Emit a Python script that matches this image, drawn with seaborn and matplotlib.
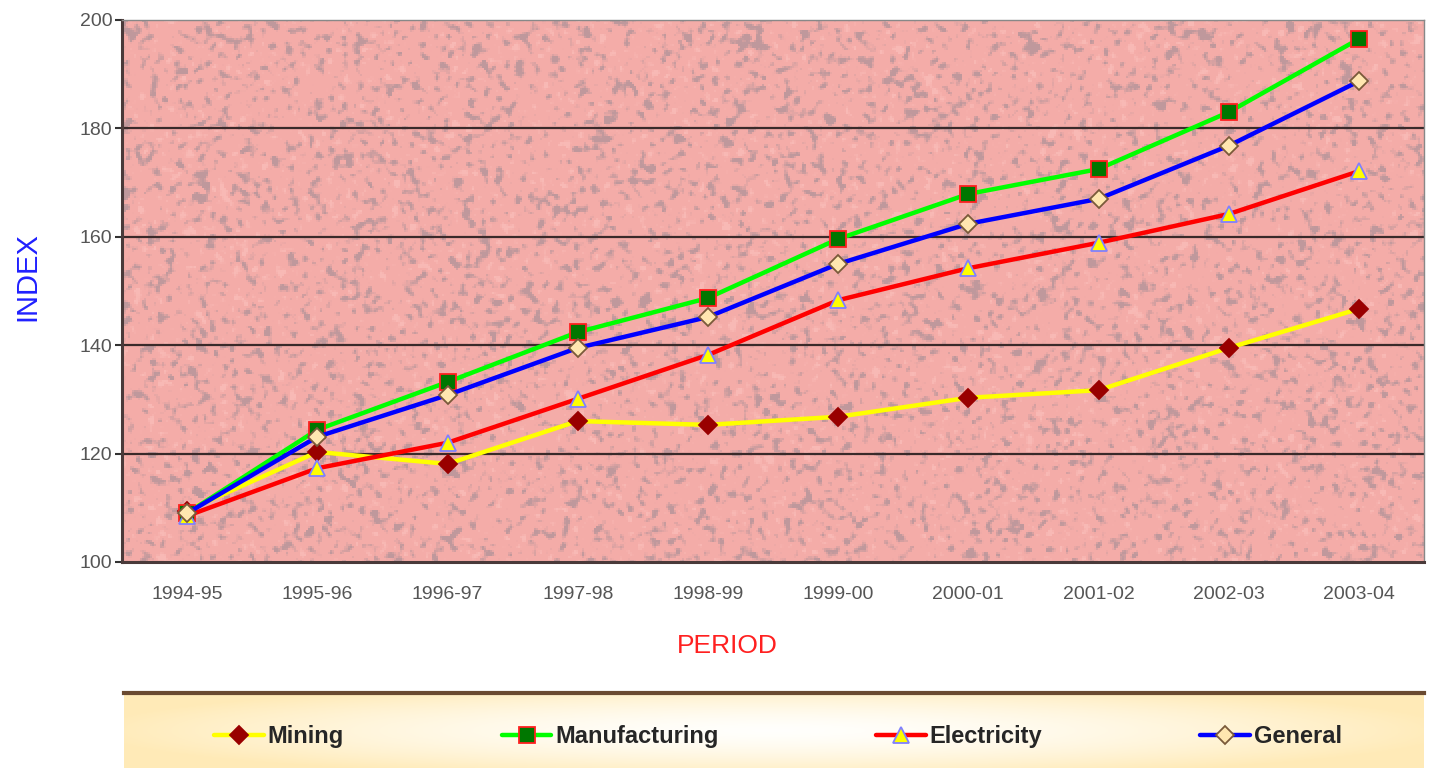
import numpy as np
import pandas as pd
import matplotlib
matplotlib.use("Agg")
import matplotlib.pyplot as plt
import seaborn as sns

periods = ["1994-95", "1995-96", "1996-97", "1997-98", "1998-99",
           "1999-00", "2000-01", "2001-02", "2002-03", "2003-04"]
mining = [109.5, 120.3, 118.1, 126.0, 125.3, 126.8, 130.3, 131.7, 139.5, 146.7]
manufacturing = [109.0, 124.4, 133.2, 142.4, 148.7, 159.6, 167.9, 172.5, 183.0, 196.5]
electricity = [108.5, 117.3, 122.0, 130.1, 138.2, 148.3, 154.2, 158.9, 164.2, 172.1]
general = [109.0, 123.1, 130.8, 139.5, 145.2, 155.0, 162.4, 167.0, 176.8, 188.7]
y_ticks = [100, 120, 140, 160, 180, 200]

series = {
    "Mining": mining,
    "Manufacturing": manufacturing,
    "Electricity": electricity,
    "General": general,
}
styles = {
    "Mining": dict(color="#FFFF00", marker="D", mfc="#990000", mec="#990000", ms=9),
    "Manufacturing": dict(color="#00FF00", marker="s", mfc="#007700", mec="#FF2020", ms=11),
    "Electricity": dict(color="#FF0000", marker="^", mfc="#FFFF00", mec="#8080FF", ms=11),
    "General": dict(color="#0000FF", marker="D", mfc="#FFE6B0", mec="#7A5A3A", ms=9),
}

df = pd.DataFrame([
    {"period": p, "x": i, "value": v, "series": name}
    for name, vals in series.items()
    for i, (p, v) in enumerate(zip(periods, vals))
])

sns.set_style("white")
plt.rcParams["font.family"] = ["Liberation Sans", "DejaVu Sans"]

fig = plt.figure(figsize=(14.32, 7.70), dpi=100)
ax = fig.add_axes([122 / 1432, 1 - 562 / 770, (1424 - 122) / 1432, (562 - 20) / 770])


def box_blur(a, k=1):
    out = np.zeros_like(a)
    n = 0
    for dy in range(-k, k + 1):
        for dx in range(-k, k + 1):
            out += np.roll(np.roll(a, dy, 0), dx, 1)
            n += 1
    return out / n


# fine speckled pink plot background
rng = np.random.default_rng(11)
tex = box_blur(rng.normal(0, 1, (271, 651)), 1)
tex = box_blur(tex, 1) * 0.6 + tex * 0.4
tex = (tex - tex.mean()) / tex.std()
base = np.array([0.960, 0.675, 0.660])
grey = np.array([0.70, 0.58, 0.60])
light = np.array([0.99, 0.78, 0.76])
w = np.clip((tex - 0.6) * 0.7, 0, 0.8)[..., None]
wl = np.clip((-tex - 1.4) * 0.6, 0, 0.5)[..., None]
img = base * (1 - w - wl) + grey * w + light * wl
ax.imshow(img, extent=[-0.5, 9.5, 100, 200], aspect="auto", zorder=0, interpolation="nearest")

for name in series:
    st = styles[name]
    sub = df[df["series"] == name]
    sns.lineplot(data=sub, x="x", y="value", ax=ax, color=st["color"], linewidth=3.2,
                 marker=st["marker"], markersize=st["ms"], markerfacecolor=st["mfc"],
                 markeredgecolor=st["mec"], markeredgewidth=1.3, label=name,
                 legend=False, zorder=3)

ax.set_xlim(-0.5, 9.5)
ax.set_ylim(100, 200)
ax.set_yticks(y_ticks)
ax.set_yticklabels([str(t) for t in y_ticks], color="#555555", fontsize=14)
ax.set_xticks(range(len(periods)))
ax.set_xticklabels(periods, color="#555555", fontsize=14)
ax.tick_params(axis="x", length=0, pad=17)
ax.set_xticks(np.arange(-0.5, 10, 1), minor=True)
ax.tick_params(axis="x", which="minor", length=6, color="#555555", width=1.5)
ax.tick_params(axis="y", length=5, color="#333333", width=1.5, left=True, pad=2)
for yv in y_ticks[1:-1]:
    ax.axhline(yv, color="#3a2a2a", linewidth=1.6, zorder=1)

for side in ["left", "bottom"]:
    ax.spines[side].set_color("#4a3a3a")
    ax.spines[side].set_linewidth(2.2)
for side in ["top", "right"]:
    ax.spines[side].set_color("#888888")
    ax.spines[side].set_linewidth(1.0)

ax.set_xlabel("PERIOD", color="#FF2020", fontsize=19)
ax.xaxis.set_label_coords((727 - 122) / 1302, -(646 - 562) / 542, transform=ax.transAxes)
ax.xaxis.label.set_va("center")
ax.set_ylabel("INDEX", color="#2020FF", fontsize=21)
ax.yaxis.set_label_coords(-(122 - 27) / 1302, (562 - 277) / 542, transform=ax.transAxes)
ax.yaxis.label.set_va("center")

# legend panel with soft yellow glow
lax = fig.add_axes([124 / 1432, 2 / 770, (1424 - 124) / 1432, (768 - 693) / 770])
gx = np.linspace(-1, 1, 400)
gy = np.linspace(-1, 1, 60)
GX, GY = np.meshgrid(gx, gy)
r = np.clip(np.sqrt((GX / 1.05) ** 2 + (GY / 1.3) ** 2), 0, 1)
c0 = np.array([1.0, 1.0, 0.99])
c1 = np.array([1.0, 0.92, 0.72])
grad = c0 * (1 - r[..., None] ** 1.5) + c1 * r[..., None] ** 1.5
lax.imshow(grad, extent=[0, 1, 0, 1], aspect="auto", zorder=0)
lax.set_xlim(0, 1)
lax.set_ylim(0, 1)
lax.set_xticks([])
lax.set_yticks([])
for side in ["left", "right", "bottom"]:
    lax.spines[side].set_visible(False)
lax.spines["top"].set_color("#6a4a30")
lax.spines["top"].set_linewidth(3)

handles, labels = ax.get_legend_handles_labels()
leg = lax.legend(handles, labels, loc="center", ncol=4, frameon=False,
                 prop={"size": 17, "weight": "bold"}, handlelength=2.1,
                 handletextpad=0.15, columnspacing=6.7, bbox_to_anchor=(0.503, 0.42))

fig.savefig("out.png", dpi=100)
